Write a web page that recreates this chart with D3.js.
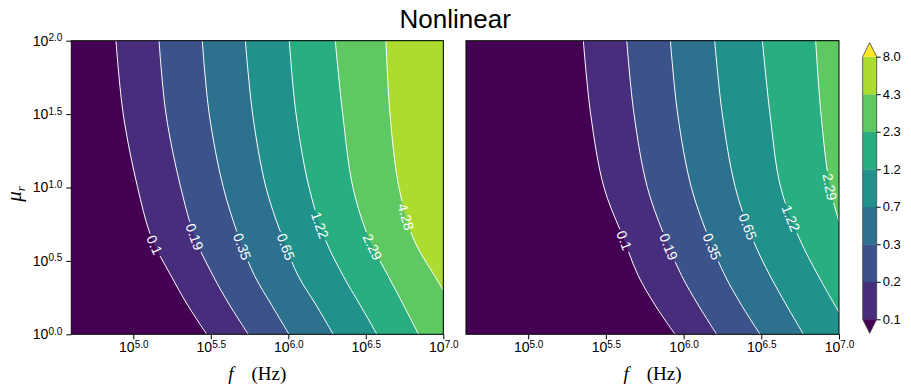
<!DOCTYPE html>
<html>
<head>
<meta charset="utf-8">
<script src="https://cdn.jsdelivr.net/npm/d3@7"></script>
<style>
  body { margin: 0; background: #fff; }
  svg { display: block; }
</style>
</head>
<body>
<div id="chart"></div>
<script>
// contour levels (geometric from 0.1 to 8.0)
const levels = [0.1, 0.19, 0.35, 0.65, 1.22, 2.29, 4.28, 8.0];
const levelLabels = ["0.1", "0.19", "0.35", "0.65", "1.22", "2.29", "4.28"];
const cbarLabels = ["0.1", "0.2", "0.3", "0.7", "1.2", "2.3", "4.3", "8.0"];
const xTicks = [5.0, 5.5, 6.0, 6.5, 7.0];
const yTicks = [0.0, 0.5, 1.0, 1.5, 2.0];

// contour lines as [log10 f, log10 mu_r], top to bottom
const leftContours = [
  [[4.888, 2], [4.935, 1.5], [5.028, 1], [5.120, 0.65], [5.243, 0.4], [5.350, 0.2], [5.474, 0]],
  [[5.166, 2], [5.211, 1.5], [5.306, 1], [5.401, 0.65], [5.514, 0.4], [5.621, 0.2], [5.742, 0]],
  [[5.445, 2], [5.490, 1.5], [5.581, 1], [5.685, 0.65], [5.782, 0.4], [5.892, 0.2], [6.005, 0]],
  [[5.723, 2], [5.770, 1.5], [5.856, 1], [5.966, 0.65], [6.063, 0.4], [6.179, 0.2], [6.290, 0]],
  [[6.006, 2], [6.050, 1.5], [6.134, 1], [6.237, 0.65], [6.353, 0.4], [6.463, 0.2], [6.572, 0]],
  [[6.303, 2], [6.351, 1.5], [6.417, 1], [6.521, 0.65], [6.643, 0.4], [6.743, 0.2], [6.840, 0]],
  [[6.630, 2], [6.656, 1.5], [6.714, 1], [6.808, 0.65], [6.943, 0.4], [7.0, 0.30]]
];
const leftLabelMu = [0.608, 0.665, 0.597, 0.597, 0.745, 0.595, 0.80];

const rightContours = [
  [[5.355, 2], [5.402, 1.5], [5.488, 1], [5.615, 0.65], [5.708, 0.4], [5.816, 0.2], [5.945, 0]],
  [[5.634, 2], [5.681, 1.5], [5.767, 1], [5.884, 0.65], [5.987, 0.4], [6.094, 0.2], [6.213, 0]],
  [[5.915, 2], [5.962, 1.5], [6.050, 1], [6.164, 0.65], [6.266, 0.4], [6.372, 0.2], [6.492, 0]],
  [[6.200, 2], [6.249, 1.5], [6.333, 1], [6.444, 0.65], [6.556, 0.4], [6.661, 0.2], [6.771, 0]],
  [[6.507, 2], [6.556, 1.5], [6.625, 1], [6.746, 0.65], [6.866, 0.4], [7.0, 0.15]],
  [[6.850, 2], [6.884, 1.5], [6.942, 1], [7.0, 0.77]]
];
const rightLabelMu = [0.642, 0.597, 0.597, 0.733, 0.79, 1.005];

const width = 911, height = 390;
const plotTop = 40.7, plotBottom = 334.3;
const sans = "'Liberation Sans', Arial, sans-serif";
const serif = "'Liberation Serif', 'Times New Roman', serif";

const color = k => d3.interpolateViridis(k / 8);

const svg = d3.select("#chart").append("svg")
  .attr("width", width)
  .attr("height", height);

const panels = [
  { x0: 71.3, x1: 443.3, contours: leftContours, labelMu: leftLabelMu, yAxis: true },
  { x0: 466, x1: 839, contours: rightContours, labelMu: rightLabelMu, yAxis: false }
];

function powLabel(sel, anchor) {
  sel.each(function (d) {
    const t = d3.select(this);
    t.text(null).attr("text-anchor", anchor);
    t.append("tspan").text("10");
    t.append("tspan").attr("dy", "-0.45em").style("font-size", "10px").text(d.toFixed(1));
  });
}

panels.forEach((p, pi) => {
  const x = d3.scaleLinear().domain([4.6, 7.0]).range([p.x0, p.x1]);
  const y = d3.scaleLinear().domain([0, 2]).range([plotBottom, plotTop]);
  const g = svg.append("g");

  const clipId = "clip" + pi;
  svg.append("clipPath").attr("id", clipId)
    .append("rect")
    .attr("x", x(4.6)).attr("y", y(2))
    .attr("width", x(7) - x(4.6)).attr("height", y(0) - y(2));

  const body = g.append("g").attr("clip-path", `url(#${clipId})`);

  // lowest band
  body.append("rect")
    .attr("x", x(4.6)).attr("y", y(2))
    .attr("width", x(7) - x(4.6)).attr("height", y(0) - y(2))
    .attr("fill", color(0));

  const line = d3.line()
    .x(d => x(d[0]))
    .y(d => y(d[1]))
    .curve(d3.curveCatmullRom.alpha(0.5));

  // filled bands: region right of each contour
  body.selectAll(".band")
    .data(p.contours)
    .join("path")
    .attr("class", "band")
    .attr("fill", (d, i) => color(i + 1))
    .attr("d", d => {
      const last = d[d.length - 1];
      return line(d) + `L${x(7) + 2},${y(last[1])}L${x(7) + 2},${y(2) - 2}L${x(d[0][0])},${y(2) - 2}Z`;
    });

  // contour lines
  const lines = body.selectAll(".cline")
    .data(p.contours)
    .join("path")
    .attr("class", "cline")
    .attr("fill", "none")
    .attr("stroke", "#fff")
    .attr("stroke-width", 1)
    .attr("d", line);

  // contour labels
  lines.each(function (d, i) {
    const path = this;
    const total = path.getTotalLength();
    const ty = y(p.labelMu[i]);
    let best = 0, bd = 1e9;
    for (let s = 0; s <= total; s += 0.5) {
      const pt = path.getPointAtLength(s);
      const dd = Math.abs(pt.y - ty);
      if (dd < bd) { bd = dd; best = s; }
    }
    const pt = path.getPointAtLength(best);
    const a = path.getPointAtLength(Math.max(0, best - 3));
    const b = path.getPointAtLength(Math.min(total, best + 3));
    const angle = Math.atan2(b.y - a.y, b.x - a.x) * 180 / Math.PI;
    const txt = body.append("text")
      .attr("transform", `translate(${pt.x},${pt.y}) rotate(${angle})`)
      .attr("text-anchor", "middle")
      .attr("dominant-baseline", "central")
      .attr("fill", "#fff")
      .style("font-family", sans)
      .style("font-size", "14px")
      .text(levelLabels[i]);
    const gap = txt.node().getComputedTextLength() + 5;
    d3.select(path).attr("stroke-dasharray", `${best - gap / 2} ${gap} ${total}`);
  });

  // frame
  g.append("rect")
    .attr("x", x(4.6)).attr("y", y(2))
    .attr("width", x(7) - x(4.6)).attr("height", y(0) - y(2))
    .attr("fill", "none")
    .attr("stroke", "#000")
    .attr("stroke-width", 1);

  // x axis
  const xa = g.append("g")
    .attr("transform", `translate(0,${plotBottom})`)
    .call(d3.axisBottom(x).tickValues(xTicks).tickSize(5).tickPadding(3));
  xa.select(".domain").remove();
  xa.selectAll("text")
    .style("font-family", sans).style("font-size", "14px").attr("fill", "#000")
    .call(powLabel, "middle");

  if (p.yAxis) {
    const ya = g.append("g")
      .attr("transform", `translate(${p.x0},0)`)
      .call(d3.axisLeft(y).tickValues(yTicks).tickSize(5).tickPadding(4));
    ya.select(".domain").remove();
    ya.selectAll("text")
      .style("font-family", sans).style("font-size", "14px").attr("fill", "#000")
      .call(powLabel, "end");
  }

  // x axis title
  const xt = g.append("text")
    .attr("x", (p.x0 + p.x1) / 2)
    .attr("y", 380)
    .attr("text-anchor", "middle")
    .style("font-family", serif)
    .style("font-size", "19px");
  xt.append("tspan").style("font-style", "italic").text("f");
  xt.append("tspan").attr("dx", 18).text("(Hz)");
});

// y axis title
const yt = svg.append("text")
  .attr("transform", `translate(21,194) rotate(-90)`)
  .attr("text-anchor", "middle")
  .style("font-family", serif)
  .style("font-size", "21px");
yt.append("tspan").style("font-style", "italic").text("μ");
yt.append("tspan").attr("dy", 4).style("font-style", "italic").style("font-size", "13px").text("r");

// title
svg.append("text")
  .attr("x", 455.2)
  .attr("y", 27.5)
  .attr("text-anchor", "middle")
  .style("font-family", sans)
  .style("font-size", "26px")
  .text("Nonlinear");

// colorbar
const cbX0 = 862.7, cbX1 = 876.7, cbTop = 56.7, cbBottom = 319.3, tri = 14;
const cbY = d3.scaleLinear().domain([0, cbarLabels.length - 1]).range([cbBottom, cbTop]);
const cb = svg.append("g");
d3.range(cbarLabels.length - 1).forEach(k => {
  cb.append("rect")
    .attr("x", cbX0).attr("y", cbY(k + 1))
    .attr("width", cbX1 - cbX0).attr("height", cbY(k) - cbY(k + 1) + 0.3)
    .attr("fill", color(k + 1));
});
cb.append("path")
  .attr("d", `M${cbX0},${cbTop}L${(cbX0 + cbX1) / 2},${cbTop - tri}L${cbX1},${cbTop}Z`)
  .attr("fill", color(8));
cb.append("path")
  .attr("d", `M${cbX0},${cbBottom}L${(cbX0 + cbX1) / 2},${cbBottom + tri}L${cbX1},${cbBottom}Z`)
  .attr("fill", color(0));
cb.append("path")
  .attr("d", `M${cbX0},${cbTop}L${(cbX0 + cbX1) / 2},${cbTop - tri}L${cbX1},${cbTop}L${cbX1},${cbBottom}` +
    `L${(cbX0 + cbX1) / 2},${cbBottom + tri}L${cbX0},${cbBottom}Z`)
  .attr("fill", "none")
  .attr("stroke", "#444")
  .attr("stroke-width", 0.8);
const ca = cb.append("g")
  .attr("transform", `translate(${cbX1},0)`)
  .call(d3.axisRight(cbY).tickValues(d3.range(cbarLabels.length)).tickSize(4).tickPadding(2)
    .tickFormat(i => cbarLabels[i]));
ca.select(".domain").remove();
ca.selectAll("text").style("font-family", sans).style("font-size", "13px").attr("fill", "#000");
</script>
</body>
</html>
